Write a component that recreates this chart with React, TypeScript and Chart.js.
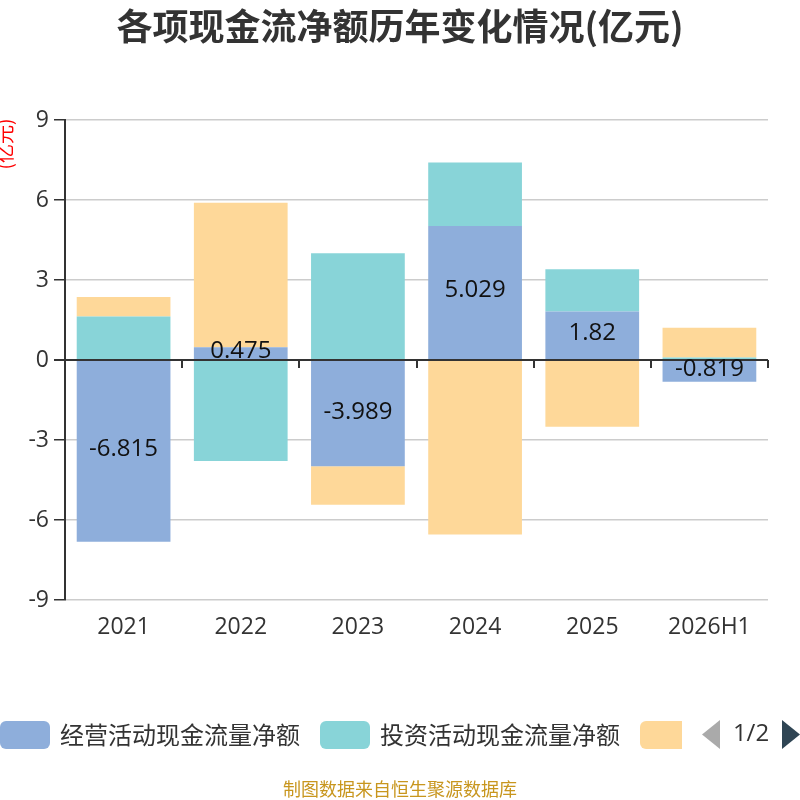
import React, { useEffect, useRef } from "react";
import { Chart, registerables, Plugin } from "chart.js";

Chart.register(...registerables);

// values in 亿元
const categories = ["2021", "2022", "2023", "2024", "2025", "2026H1"];
const operatingCF = [-6.815, 0.475, -3.989, 5.029, 1.82, -0.819];
const investingCF = [1.63, -3.79, 4.0, 2.38, 1.58, 0.09];
const financingCF = [0.73, 5.42, -1.44, -6.54, -2.5, 1.12];
const seriesNames = ["经营活动现金流量净额", "投资活动现金流量净额", "筹资活动现金流量净额"];
const seriesColors = ["#8eaedb", "#88d4d8", "#fed899"];

const FONT = "'Open Sans', 'Noto Sans CJK SC', sans-serif";
const CJK = "'Noto Sans CJK SC', sans-serif";

const decorPlugin: Plugin<"bar"> = {
  id: "decor",
  afterDatasetsDraw(chart) {
    const { ctx } = chart;
    const x = chart.scales.x;
    const y = chart.scales.y;
    ctx.save();

    // ticks on the zero line between categories
    const zeroY = y.getPixelForValue(0);
    const step = x.getPixelForValue(1) - x.getPixelForValue(0);
    ctx.strokeStyle = "#333";
    ctx.lineWidth = 2;
    for (let i = 1; i <= categories.length; i++) {
      const px = Math.round(x.getPixelForValue(i) - step / 2);
      ctx.beginPath();
      ctx.moveTo(px, zeroY);
      ctx.lineTo(px, zeroY + 8);
      ctx.stroke();
    }

    // value labels on the operating series
    const meta = chart.getDatasetMeta(0);
    ctx.fillStyle = "#111";
    ctx.font = `24px ${FONT}`;
    ctx.textAlign = "center";
    ctx.textBaseline = "middle";
    meta.data.forEach((el: any, i) => {
      ctx.fillText(String(operatingCF[i]), el.x, (el.y + el.base) / 2 - 2);
    });
    ctx.restore();
  },
  afterDraw(chart) {
    const { ctx } = chart;
    ctx.save();

    // title
    ctx.fillStyle = "#333";
    ctx.font = `bold 36px ${CJK}`;
    ctx.textAlign = "center";
    ctx.textBaseline = "middle";
    ctx.fillText("各项现金流净额历年变化情况(亿元)", 400, 26);

    // y axis name
    ctx.save();
    ctx.translate(5, 144);
    ctx.rotate(-Math.PI / 2);
    ctx.fillStyle = "#ff0000";
    ctx.font = `19px ${CJK}`;
    ctx.fillText("(亿元)", 0, 0);
    ctx.restore();

    // legend (scrolling, page 1/2)
    ctx.save();
    ctx.beginPath();
    ctx.rect(0, 700, 682, 60);
    ctx.clip();
    ctx.font = `24px ${CJK}`;
    ctx.textAlign = "left";
    ctx.textBaseline = "middle";
    let lx = 0;
    const ly = 721;
    seriesNames.forEach((name, i) => {
      ctx.fillStyle = seriesColors[i];
      ctx.beginPath();
      (ctx as any).roundRect(lx, ly, 50, 28, 6);
      ctx.fill();
      ctx.fillStyle = "#333";
      ctx.fillText(name, lx + 60, ly + 14);
      lx += 60 + ctx.measureText(name).width + 20;
    });
    ctx.restore();

    // pager
    ctx.fillStyle = "#aaa";
    ctx.beginPath();
    ctx.moveTo(720, 720);
    ctx.lineTo(720, 749);
    ctx.lineTo(702, 734.5);
    ctx.closePath();
    ctx.fill();
    ctx.fillStyle = "#333";
    ctx.font = `24px ${FONT}`;
    ctx.textAlign = "center";
    ctx.textBaseline = "middle";
    ctx.fillText("1/2", 751, 734);
    ctx.fillStyle = "#2f4554";
    ctx.beginPath();
    ctx.moveTo(782, 720);
    ctx.lineTo(782, 749);
    ctx.lineTo(800, 734.5);
    ctx.closePath();
    ctx.fill();

    // source
    ctx.fillStyle = "#c8961e";
    ctx.font = `18px ${CJK}`;
    ctx.fillText("制图数据来自恒生聚源数据库", 400, 789);
    ctx.restore();
  },
};

const App: React.FC = () => {
  const canvasRef = useRef<HTMLCanvasElement>(null);
  const chartRef = useRef<Chart | null>(null);

  useEffect(() => {
    if (!canvasRef.current) return;
    if (chartRef.current) chartRef.current.destroy();

    const values = [operatingCF, investingCF, financingCF];
    chartRef.current = new Chart(canvasRef.current, {
      type: "bar",
      data: {
        labels: categories,
        datasets: values.map((data, i) => ({
          label: seriesNames[i],
          data,
          backgroundColor: seriesColors[i],
          borderWidth: 0,
          categoryPercentage: 0.8,
          barPercentage: 1,
        })),
      },
      options: {
        responsive: false,
        animation: false,
        layout: { padding: { left: 0, top: 120, right: 32, bottom: 0 } },
        plugins: {
          legend: { display: false },
          title: { display: false },
          tooltip: { enabled: false },
        },
        scales: {
          x: {
            stacked: true,
            grid: { display: false },
            border: { display: false },
            ticks: { color: "#333", font: { family: FONT, size: 23 }, padding: 6 },
            afterFit: (scale) => {
              scale.height = 200;
            },
          },
          y: {
            stacked: true,
            min: -9,
            max: 9,
            ticks: { stepSize: 3, color: "#333", font: { family: FONT, size: 23 }, padding: 5 },
            grid: {
              color: (c) => (c.tick && c.tick.value === 0 ? "#333" : "#ccc"),
              lineWidth: (c) => (c.tick && c.tick.value === 0 ? 2 : 1.5),
              tickColor: "#333",
              tickLength: 11,
            },
            border: { color: "#333", width: 2 },
            afterFit: (scale) => {
              scale.width = 65;
            },
          },
        },
      },
      plugins: [decorPlugin],
    });

    return () => {
      if (chartRef.current) {
        chartRef.current.destroy();
        chartRef.current = null;
      }
    };
  }, []);

  return (
    <div style={{ position: "fixed", left: 0, top: 0, width: 800, height: 800, background: "#fff" }}>
      <canvas ref={canvasRef} width={800} height={800} />
    </div>
  );
};

export default App;
